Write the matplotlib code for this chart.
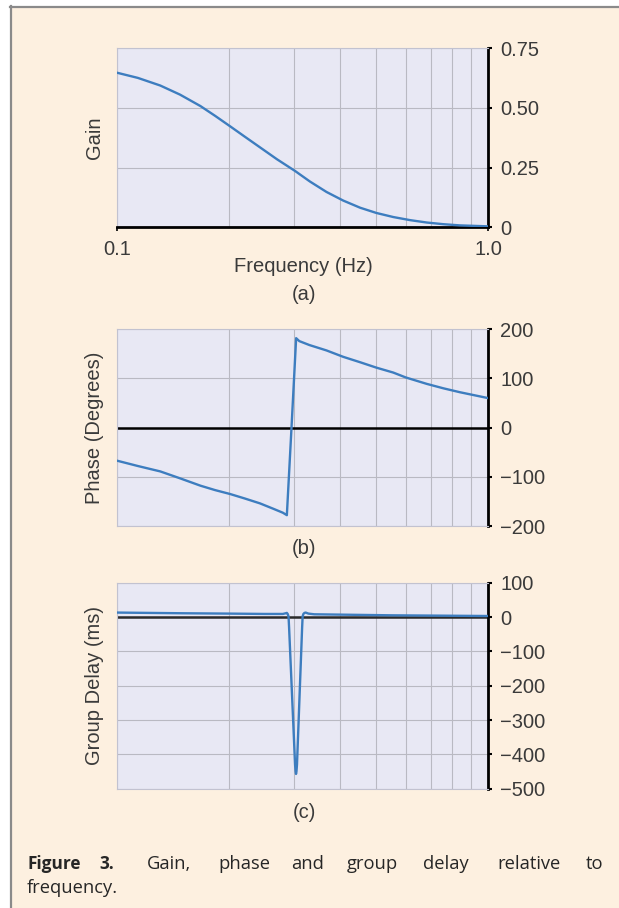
import matplotlib
matplotlib.use('Agg')
import matplotlib.pyplot as plt
from matplotlib.ticker import FixedLocator, NullFormatter
from matplotlib.lines import Line2D
from matplotlib.patches import Rectangle

# ---------------- data ----------------
gain_freq = [0.100, 0.114, 0.131, 0.148, 0.168, 0.184, 0.202, 0.221, 0.243, 0.270,
             0.302, 0.331, 0.367, 0.407, 0.452, 0.500, 0.555, 0.616, 0.683, 0.757,
             0.839, 1.000]
gain = [0.648, 0.626, 0.594, 0.556, 0.508, 0.467, 0.423, 0.380, 0.335, 0.285,
        0.236, 0.192, 0.148, 0.112, 0.082, 0.060, 0.043, 0.030, 0.020, 0.013,
        0.008, 0.004]

phase_freq = [0.100, 0.114, 0.131, 0.148, 0.168, 0.184, 0.202, 0.221, 0.243, 0.264,
              0.280, 0.287, 0.2954, 0.304, 0.310, 0.330, 0.367, 0.407, 0.452, 0.500,
              0.555, 0.600, 0.683, 0.757, 0.839, 1.000]
phase = [-67, -78, -89, -103, -118, -127, -135, -144, -154, -165,
         -173, -178, 0, 182, 176, 168, 157, 144, 133, 122,
         112, 102, 89, 80, 72, 60]

delay_freq = [0.100, 0.150, 0.200, 0.250, 0.280, 0.2850, 0.2870, 0.2885, 0.2900, 0.2910,
              0.3020, 0.3030, 0.3038, 0.3046, 0.3056, 0.3155, 0.3165, 0.3180, 0.3200, 0.3225,
              0.3280, 0.3400, 0.4000, 0.5500, 0.7500, 1.000]
delay = [13, 11, 10, 9, 9, 11, 12, 9, 2, -30,
         -430, -450, -457, -450, -430, -30, 2, 9, 12, 13,
         10, 8, 7, 5, 4, 3]

gain_ticks = [0, 0.25, 0.50, 0.75]
gain_tick_labels = ['0', '0.25', '0.50', '0.75']
phase_ticks = [-200, -100, 0, 100, 200]
phase_tick_labels = ['\u2212200', '\u2212100', '0', '100', '200']
delay_ticks = [-500, -400, -300, -200, -100, 0, 100]
delay_tick_labels = ['\u2212500', '\u2212400', '\u2212300', '\u2212200', '\u2212100', '0', '100']
freq_major = [0.1, 1.0]
freq_major_labels = ['0.1', '1.0']
freq_minor = [0.2, 0.3, 0.4, 0.5, 0.6, 0.7, 0.8, 0.9]

# ---------------- style ----------------
W, H = 619, 908
BG = '#fdf0e0'
FACE = '#e8e8f4'
GRID = '#b9b9c2'
LINE = '#3d7dbf'
TXT = '#3a3a3a'
FONT = ['Liberation Sans', 'DejaVu Sans']
FS = 14.5

plt.rcParams['font.family'] = FONT

fig = plt.figure(figsize=(W / 100, H / 100), dpi=100)
fig.patch.set_facecolor('white')
fig.patches.append(Rectangle((10 / W, 0), 1, 1 - 6 / H, transform=fig.transFigure,
                             facecolor=BG, edgecolor='none', zorder=-10))
fig.lines.append(Line2D([10.5 / W, 10.5 / W], [0, 1 - 6 / H], transform=fig.transFigure,
                        color='#8a8a8a', lw=1.6))
fig.lines.append(Line2D([10 / W, 1], [1 - 6.5 / H, 1 - 6.5 / H], transform=fig.transFigure,
                        color='#8a8a8a', lw=1.6))

left = 116.7 / W
width = 371.6 / W


def make_axes(top_px, bot_px):
    return fig.add_axes([left, 1 - bot_px / H, width, (bot_px - top_px) / H])


def style(ax, ticks, labels, ylim, xlabels=False):
    ax.set_facecolor(FACE)
    ax.set_xscale('log')
    ax.set_xlim(0.1, 1.0)
    ax.set_ylim(*ylim)
    ax.yaxis.tick_right()
    ax.set_yticks(ticks)
    ax.set_yticklabels(labels)
    ax.xaxis.set_major_locator(FixedLocator(freq_major))
    ax.xaxis.set_minor_locator(FixedLocator(freq_minor))
    ax.xaxis.set_minor_formatter(NullFormatter())
    if xlabels:
        ax.set_xticklabels(freq_major_labels)
        ax.tick_params(axis='x', which='major', length=3, width=1.2, color='black',
                       pad=6, labelsize=FS, labelcolor=TXT)
    else:
        ax.set_xticklabels([])
        ax.tick_params(axis='x', which='major', length=0)
    ax.tick_params(axis='x', which='minor', length=0)
    ax.tick_params(axis='y', direction='out', length=3, width=1.5, color='black',
                   pad=5.5, labelsize=FS, labelcolor=TXT)
    ax.grid(True, which='both', axis='x', color=GRID, lw=0.8)
    ax.grid(True, which='major', axis='y', color=GRID, lw=0.8)
    ax.set_axisbelow(True)
    for s in ['left', 'top', 'bottom']:
        ax.spines[s].set_color('#c2c2d0')
        ax.spines[s].set_linewidth(0.8)
    ax.spines['right'].set_color('black')
    ax.spines['right'].set_linewidth(2.0)


# Panel (a)
ax1 = make_axes(48.3, 227.3)
style(ax1, gain_ticks, gain_tick_labels, (0, 0.75), xlabels=True)
ax1.spines['bottom'].set_color('black')
ax1.spines['bottom'].set_linewidth(2.0)
ax1.plot(gain_freq, gain, color=LINE, lw=1.7, solid_capstyle='round',
         solid_joinstyle='round', zorder=3)

# Panel (b)
ax2 = make_axes(329.3, 526.0)
style(ax2, phase_ticks, phase_tick_labels, (-200, 200))
ax2.axhline(0, color='black', lw=1.8, zorder=2)
ax2.plot(phase_freq, phase, color=LINE, lw=1.7, solid_joinstyle='round', zorder=3)

# Panel (c)
ax3 = make_axes(582.7, 788.7)
style(ax3, delay_ticks, delay_tick_labels, (-500, 100))
ax3.axhline(0, color='#2a2a2a', lw=1.8, zorder=2)
ax3.plot(delay_freq, delay, color=LINE, lw=1.7, solid_joinstyle='round', zorder=3)


def ftext(x_px, y_px, s, **kw):
    return fig.text(x_px / W, 1 - y_px / H, s, **kw)


ftext(95, (48.3 + 227.3) / 2, 'Gain', rotation=90, ha='center', va='center', fontsize=FS, color=TXT)
ftext(95, (329.3 + 526.0) / 2, 'Phase (Degrees)', rotation=90, ha='center', va='center', fontsize=FS, color=TXT)
ftext(95, (582.7 + 788.7) / 2, 'Group Delay (ms)', rotation=90, ha='center', va='center', fontsize=FS, color=TXT)
ftext(303, 266, 'Frequency (Hz)', ha='center', va='center', fontsize=FS, color=TXT)
ftext(304, 295, '(a)', ha='center', va='center', fontsize=FS, color=TXT)
ftext(304, 548, '(b)', ha='center', va='center', fontsize=FS, color=TXT)
ftext(304, 812, '(c)', ha='center', va='center', fontsize=FS, color=TXT)

# ---------------- caption (justified first line: words placed individually) ----------------
cap_font = ['Open Sans', 'DejaVu Sans']
cap_fs = 13.2
cap_bold_fs = 12.4
cap_col = '#262626'

line1 = [('Figure', 27, 'bold'), ('3.', 99, 'bold'), ('Gain,', 147, 'normal'),
         ('phase', 218, 'normal'), ('and', 291, 'normal'), ('group', 347, 'normal'),
         ('delay', 423, 'normal'), ('relative', 497, 'normal'), ('to', 586, 'normal')]
for word, x0, wt in line1:
    ftext(x0, 869, word, ha='left', va='baseline', color=cap_col, family=cap_font,
          fontweight=wt, fontsize=cap_fs if wt == 'normal' else cap_bold_fs)
ftext(27, 893, 'frequency.', ha='left', va='baseline', fontsize=cap_fs, color=cap_col,
      family=cap_font)

fig.savefig('out.png', dpi=100, facecolor=fig.get_facecolor())
